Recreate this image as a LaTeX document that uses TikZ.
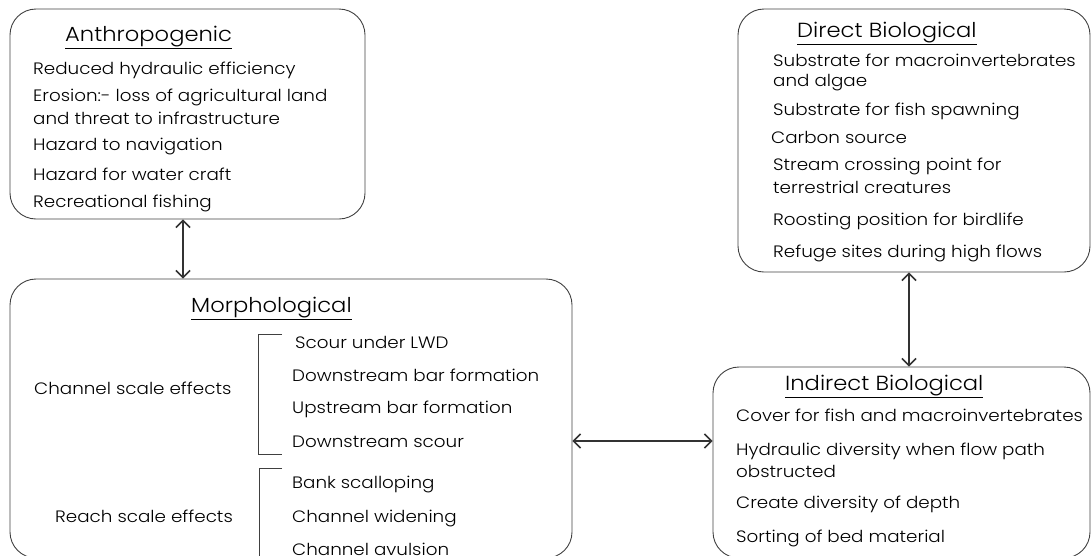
\documentclass[tikz,border=0pt]{standalone}
\usepackage{fontspec}
\setmainfont{Poppins}[UprightFont=* Light, FakeStretch=1.11]
\usetikzlibrary{arrows.meta}
\begin{document}
\begin{tikzpicture}[x=1pt,y=-1pt,
  box/.style={draw=black!75, line width=0.9pt, rounded corners=26pt, inner sep=0pt},
  ln/.style={anchor=base west, inner sep=0pt, font=\fontsize{16.5}{20}\selectfont},
  ttl/.style={anchor=base west, inner sep=0pt, font=\fontsize{20.4}{24}\selectfont},
  tip/.tip={Straight Barb[length=7pt,width=14pt,line width=1.6pt]},
  dbl/.style={draw=black!80, line width=1.1pt, tip-tip},
  brk/.style={draw=black!75, line width=0.9pt}
]
\useasboundingbox (0,0) rectangle (1091,555);
\begin{scope}
\clip (0,0) rectangle (1091,555);
% boxes
\node[box, minimum width=355pt, minimum height=210pt] (anthro) at (187.5,114) {};
\node[box, minimum width=352pt, minimum height=263pt] (direct) at (914,140.5) {};
\node[box, minimum width=562pt, minimum height=279pt] (morph) at (291,418.5) {};
\node[box, minimum width=377pt, minimum height=191pt] (indirect) at (901.5,462.5) {};

% Anthropogenic
\node[ttl] (at) at (65,41) {\underline{Anthropogenic}};
\node[ln] (a1) at (33,74) {Reduced hydraulic efficiency};
\node[ln] (a2) at (33,101) {Erosion:- loss of agricultural land};
\node[ln] (a3) at (33,124) {and threat to infrastructure};
\node[ln] (a4) at (33,150) {Hazard to navigation};
\node[ln] (a5) at (33,180) {Hazard for water craft};
\node[ln] (a6) at (33,207) {Recreational fishing};

% Direct Biological
\node[ttl] (dt) at (797,37) {\underline{Direct Biological}};
\node[ln] (d1) at (773,66) {Substrate for macroinvertebrates};
\node[ln] (d2) at (773,86) {and algae};
\node[ln] (d3) at (773,115) {Substrate for fish spawning};
\node[ln] (d4) at (771,143) {Carbon source};
\node[ln] (d5) at (773,170) {Stream crossing point for};
\node[ln] (d6) at (773,193) {terrestrial creatures};
\node[ln] (d7) at (773,225) {Roosting position for birdlife};
\node[ln] (d8) at (773,257) {Refuge sites during high flows};

% Morphological
\node[ttl] (mt) at (191,312) {\underline{Morphological}};
\node[ln] (m0) at (34,394) {Channel scale effects};
\node[ln] (m1) at (295,348) {Scour under LWD};
\node[ln] (m2) at (292,381) {Downstream bar formation};
\node[ln] (m3) at (292,413) {Upstream bar formation};
\node[ln] (m4) at (292,447) {Downstream scour};
\node[ln] (r0) at (55,522) {Reach scale effects};
\node[ln] (r1) at (292,488) {Bank scalloping};
\node[ln] (r2) at (292,522) {Channel widening};
\node[ln] (r3) at (292,555) {Channel avulsion};
\draw[brk] (282,334) -- (258,334) -- (258,454) -- (282,454);
\draw[brk] (282,468) -- (259,468) -- (259,560);

% Indirect Biological
\node[ttl] (it) at (785,390) {\underline{Indirect Biological}};
\node[ln] (i1) at (736,421) {Cover for fish and macroinvertebrates};
\node[ln] (i2) at (736,455) {Hydraulic diversity when flow path};
\node[ln] (i3) at (736,477) {obstructed};
\node[ln] (i4) at (736,508) {Create diversity of depth};
\node[ln] (i5) at (736,542) {Sorting of bed material};
\end{scope}

% connectors
\coordinate (cx1) at (183,0);
\coordinate (cx2) at (909,0);
\coordinate (cy1) at (0,441);
\draw[dbl] (anthro.south -| cx1) -- (morph.north -| cx1);
\draw[dbl] (direct.south -| cx2) -- (indirect.north -| cx2);
\draw[dbl] (morph.east |- cy1) -- (indirect.west |- cy1);
\end{tikzpicture}
\end{document}
